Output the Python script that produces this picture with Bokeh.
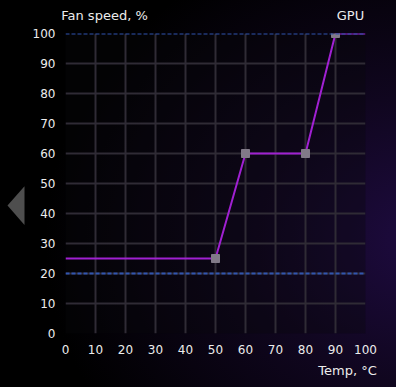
from bokeh.plotting import figure
from bokeh.models import Span, FixedTicker, Range1d, LinearAxis
from bokeh.layouts import row
from bokeh.embed import file_html
from bokeh.resources import INLINE

# data
temps = [0, 50, 60, 80, 90, 100]
speeds = [25, 25, 60, 60, 100, 100]
point_temps = [50, 60, 80, 90]
point_speeds = [25, 60, 60, 100]
ticks = [0, 10, 20, 30, 40, 50, 60, 70, 80, 90, 100]
limit_lines = [100, 20]
y_title = "Fan speed, %"
x_title = "Temp, °C"
device = "GPU"

FONT = "DejaVu Sans"
TXT = "#ececec"

# small side panel with the left arrow
arrow = figure(width=25, height=387, output_backend="svg", toolbar_location=None,
               x_range=Range1d(0, 25), y_range=Range1d(387, 0),
               x_axis_location=None, y_axis_location=None,
               min_border=0, min_border_left=0, min_border_right=0,
               min_border_top=0, min_border_bottom=0)
arrow.grid.visible = False
arrow.outline_line_color = None
arrow.background_fill_alpha = 0
arrow.border_fill_alpha = 0
arrow.patch([24, 24, 7], [197, 247, 222], fill_color="#4e4e4e", line_color=None)

p = figure(width=371, height=387, output_backend="svg", toolbar_location=None,
           x_range=Range1d(0, 100), y_range=Range1d(0, 100),
           min_border_left=40, min_border_right=31, min_border_top=33, min_border_bottom=54)
p.background_fill_color = "#0a080c"
p.background_fill_alpha = 0.35
p.border_fill_alpha = 0
p.outline_line_color = None


def style_axis(ax, size="12px"):
    ax.axis_line_color = None
    ax.major_tick_line_color = None
    ax.minor_tick_line_color = None
    ax.major_tick_out = 0
    ax.major_tick_in = 0
    ax.minor_tick_out = 0
    ax.major_label_text_color = TXT
    ax.major_label_text_font = FONT
    ax.major_label_text_font_size = size


for ax in (p.xaxis[0], p.yaxis[0]):
    ax.ticker = FixedTicker(ticks=ticks)
    style_axis(ax)
p.xaxis.major_label_standoff = 11
p.yaxis.major_label_standoff = 10

# title texts placed as labels of extra axes
top_axis = LinearAxis(ticker=FixedTicker(ticks=[13, 95]),
                      major_label_overrides={13: y_title, 95: device})
style_axis(top_axis, "13px")
top_axis.major_label_standoff = 11
p.add_layout(top_axis, "above")

bottom_axis = LinearAxis(ticker=FixedTicker(ticks=[94]),
                         major_label_overrides={94: x_title})
style_axis(bottom_axis, "13px")
bottom_axis.major_label_standoff = 6
p.add_layout(bottom_axis, "below")

p.xgrid.grid_line_color = "#2f2b35"
p.ygrid.grid_line_color = "#2f2b35"
p.xgrid.grid_line_width = 2
p.ygrid.grid_line_width = 2

for v in limit_lines:
    p.add_layout(Span(location=v, dimension="width", line_color="#3055b0",
                      line_dash="4 2", line_width=2))

p.line(temps, speeds, line_color="#a020d2", line_width=2)
p.scatter(point_temps, point_speeds, marker="square", size=8,
          fill_color="#817a88", line_color="#817a88")

layout = row(arrow, p, spacing=0)
layout.styles = {"background": "radial-gradient(ellipse 380px 320px at 425px 240px, #1e0b40 0%, #10061f 45%, #000000 100%)"}

open("out.html", "w").write(file_html(layout, INLINE))
